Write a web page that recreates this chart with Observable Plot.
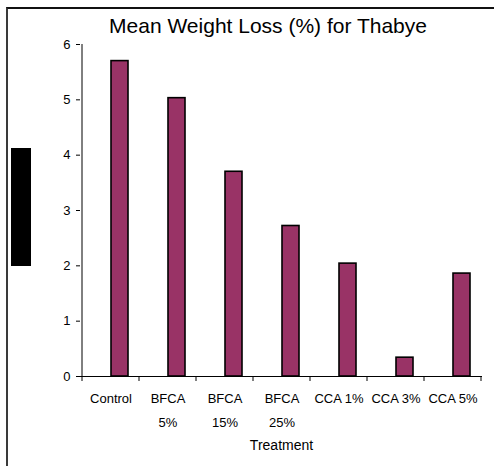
<!DOCTYPE html>
<html>
<head>
<meta charset="utf-8">
<script src="https://cdn.jsdelivr.net/npm/d3@7"></script>
<script src="https://cdn.jsdelivr.net/npm/@observablehq/plot@0.6"></script>
<style>
  html, body { margin: 0; padding: 0; background: #fff; }
  #wrap { position: relative; width: 494px; height: 466px; overflow: hidden; font-family: "Liberation Sans", Arial, sans-serif; }
  #frame { position: absolute; left: 6px; top: 7px; width: 500px; height: 470px; border-left: 2px solid #3a3a3a; border-top: 2px solid #111; }
  #title { position: absolute; left: 0; width: 536px; top: 14px; text-align: center; font-size: 21px; color: #000; }
  #ylabel { position: absolute; left: 11px; top: 148px; width: 20px; height: 118px; background: #000; }
  #chart { position: absolute; left: 0; top: 0; }
</style>
</head>
<body>
<div id="wrap">
  <div id="chart"></div>
  <div id="frame"></div>
  <div id="title">Mean Weight Loss (%) for Thabye</div>
  <div id="ylabel"></div>
</div>
<script>
const categories = ["Control", "BFCA\n5%", "BFCA\n15%", "BFCA\n25%", "CCA 1%", "CCA 3%", "CCA 5%"];
const values = [5.70, 5.03, 3.70, 2.72, 2.04, 0.34, 1.86];
const yTicks = [0, 1, 2, 3, 4, 5, 6];

const data = categories.map((c, i) => ({treatment: c, loss: values[i]}));

const chart = Plot.plot({
  width: 494,
  height: 466,
  marginLeft: 80,
  marginRight: 12,
  marginTop: 44,
  marginBottom: 90,
  style: {fontFamily: "'Liberation Sans', Arial, sans-serif", background: "transparent", overflow: "visible"},
  x: {domain: categories, padding: 0, axis: null, label: null},
  y: {domain: [0, 6], axis: null, label: null},
  marks: [
    Plot.barY(data, {x: "treatment", y: "loss", fill: "#993366", stroke: "#000", strokeWidth: 1.6, insetLeft: 29, insetRight: 11}),
    Plot.axisY({ticks: yTicks, tickSize: 4, tickPadding: 6, fontSize: 13, fill: "#000", stroke: "#000", label: null, tickFormat: d => String(d)}),
    Plot.ruleY([0], {stroke: "#000"}),
    Plot.axisX({tickSize: 0, tickPadding: 9, fontSize: 13, fill: "#000", lineHeight: 1.85, label: null, tickFormat: d => d}),
    Plot.text(["Treatment"], {frameAnchor: "bottom", dy: 73, fontSize: 14, fill: "#000"})
  ]
});
document.getElementById("chart").appendChild(chart);

// y axis line and category boundary tick marks, positioned from the plot's scales
const xs = chart.scale("x");
const ys = chart.scale("y");
const svg = d3.select(chart);
const x0 = xs.apply(categories[0]);
svg.append("line")
  .attr("x1", x0).attr("x2", x0)
  .attr("y1", ys.apply(6)).attr("y2", ys.apply(0))
  .attr("stroke", "#000");
const bounds = categories.map(c => xs.apply(c)).concat([xs.apply(categories[categories.length - 1]) + xs.bandwidth]);
svg.append("g").selectAll("line").data(bounds).join("line")
  .attr("x1", d => d).attr("x2", d => d)
  .attr("y1", ys.apply(0)).attr("y2", ys.apply(0) + 5)
  .attr("stroke", "#000");
</script>
</body>
</html>
